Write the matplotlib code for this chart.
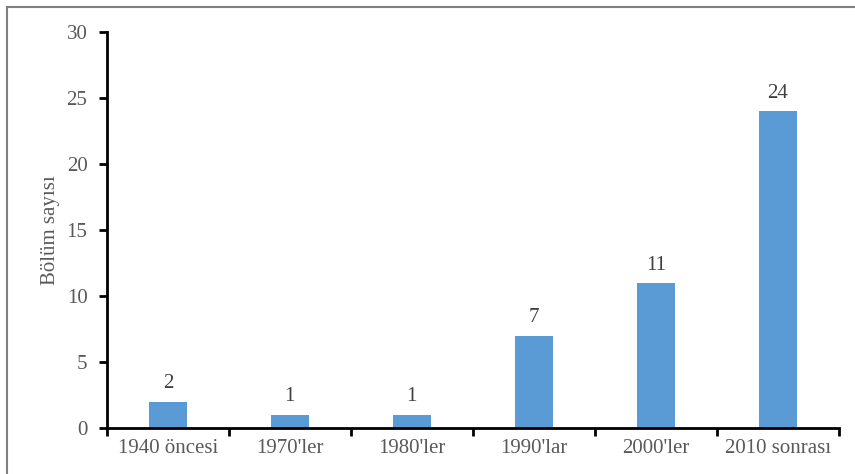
"""Bölüm sayısı - kuruluş dönemine göre"""
import matplotlib.pyplot as plt
import numpy as np
from matplotlib.lines import Line2D

plt.rcParams['font.family'] = ['Liberation Serif', 'DejaVu Serif']

periods = ['1940 öncesi', "1970'ler", "1980'ler", "1990'lar", "2000'ler", '2010 sonrası']
counts = [2, 1, 1, 7, 11, 24]

BAR_BLUE = '#5B9BD5'
TEXT_GRAY = '#595959'

fig = plt.figure(figsize=(8.55, 4.74), dpi=100)
ax = fig.add_axes([0.125, 0.097, 0.856, 0.835])

x = np.arange(len(periods))
ax.bar(x, counts, width=0.31, color=BAR_BLUE, zorder=2)

for xi, c in zip(x, counts):
    ax.annotate(str(c), (xi, c), textcoords='offset points', xytext=(0, 6),
                ha='center', va='bottom', fontsize=15, color='#404040')

ax.set_xlim(-0.5, len(periods) - 0.5)
ax.set_ylim(0, 30)
ax.set_yticks(range(0, 31, 5))
ax.set_xticks(x)
ax.set_xticklabels(periods)
ax.set_xticks(np.arange(-0.5, len(periods), 1), minor=True)
ax.tick_params(axis='x', which='major', length=0, pad=8, labelsize=15, labelcolor=TEXT_GRAY)
ax.tick_params(axis='x', which='minor', length=6, width=2, direction='out')
ax.tick_params(axis='y', length=6, width=2, direction='out', pad=8,
               labelsize=15, labelcolor=TEXT_GRAY)
ax.set_ylabel('Bölüm sayısı', fontsize=15, color=TEXT_GRAY, labelpad=5)

for side in ['top', 'right']:
    ax.spines[side].set_visible(False)
for side in ['left', 'bottom']:
    ax.spines[side].set_linewidth(2)

# outer frame (only top and left are visible in the original)
fig.add_artist(Line2D([0.008, 0.008], [0.0, 0.985], transform=fig.transFigure,
                      color='#7f7f7f', linewidth=1.5))
fig.add_artist(Line2D([0.008, 1.0], [0.985, 0.985], transform=fig.transFigure,
                      color='#7f7f7f', linewidth=1.5))

plt.savefig('out.png', dpi=100)
plt.close()
